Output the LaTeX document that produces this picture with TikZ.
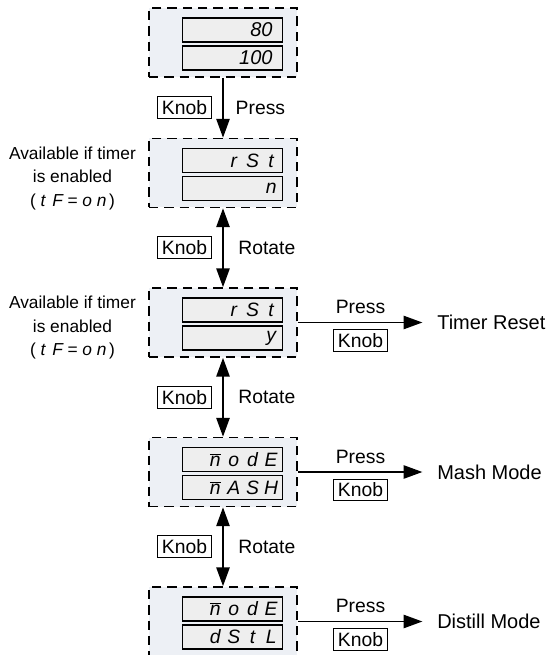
\documentclass[tikz,border=0pt]{standalone}
\usepackage{fontspec}
\setmainfont{Liberation Sans}
\usepackage{tikz}
\usetikzlibrary{arrows.meta,positioning}
\tikzset{>={Triangle[length=14pt,width=10pt]}}
\definecolor{panelfill}{RGB}{237,240,245}
\definecolor{dispfill}{RGB}{238,238,238}
% seven-segment look: one fixed cell per character
\def\segrun#1{\ifx\relax#1\else\makebox[\segcell][c]{#1}\expandafter\segrun\fi}
\newcommand{\seg}[2][14pt]{{\def\segcell{#1}\itshape\segrun#2\relax}}
\newcommand{\mseg}{\ensuremath{\overline{\mbox{n}}}}

\begin{document}
\begin{tikzpicture}[x=0.75pt,y=-0.75pt,
              panel/.style={draw, line width=1.3pt, dash pattern=on 7pt off 4.5pt, fill=panelfill,
                            minimum width=111pt, minimum height=51.75pt, inner sep=0pt},
              disp/.style={draw, line width=1pt, fill=dispfill, minimum height=18pt, text width=72pt,
                           inner xsep=1.5pt, inner ysep=0pt, align=right,
                           font=\fontsize{14.5}{14.5}\selectfont},
              digits/.style={disp, text width=60pt, inner xsep=7.5pt, font=\itshape\fontsize{15}{15}\selectfont},
              knob/.style={draw, line width=0.8pt, inner xsep=3.5pt, inner ysep=2.8pt,
                           font=\fontsize{14.5}{15}\selectfont},
              lbl/.style={inner sep=0pt, font=\fontsize{14.5}{17}\selectfont},
              note/.style={inner sep=0pt, align=center, font=\fontsize{13}{17.5}\selectfont},
              result/.style={inner sep=0pt, anchor=west, font=\fontsize{15}{17}\selectfont},
              flow/.style={line width=1pt, ->},
              both/.style={line width=1pt, <->},
             ]
\useasboundingbox (0,0) rectangle (550,655);
\clip (0,0) rectangle (550,655);

% panels
\node[panel] (p1) at (223,42.5) {};
\node[panel] (p2) at (223,173) {};
\node[panel] (p3) at (223,322.5) {};
\node[panel] (p4) at (223,472) {};
\node[panel] (p5) at (223,621.5) {};

% displays
\node[digits] (d1a) at (232.5,30) {80};
\node[digits] (d1b) at (232.5,58) {100};
\node[disp] (d2a) at (232.5,160.5) {\seg{rSt}};
\node[disp] (d2b) at (232.5,188.5) {\seg{n}};
\node[disp] (d3a) at (232.5,310) {\seg{rSt}};
\node[disp] (d3b) at (232.5,338) {\seg{y}};
\node[disp] (d4a) at (232.5,459.5) {\seg{\mseg odE}};
\node[disp] (d4b) at (232.5,487.5) {\seg{\mseg ASH}};
\node[disp] (d5a) at (232.5,609) {\seg{\mseg odE}};
\node[disp] (d5b) at (232.5,637) {\seg{dStL}};

% side notes
\node[note, left=9pt of p2, yshift=-4pt] (n2) {Available if timer\\is enabled\\(\seg[11pt]{tF=on})};
\node[note, left=9pt of p3, yshift=-4pt] (n3) {Available if timer\\is enabled\\(\seg[11pt]{tF=on})};

% results
\node[result] (t3) at (437,322.5) {Timer Reset};
\node[result] (t4) at (437,472) {Mash Mode};
\node[result] (t5) at (437,621.5) {Distill Mode};

% knob actions down the column
\draw[flow] (p1.south) -- (p2.north)
   node[midway, knob, left=8pt] (k1) {Knob}
   node[midway, lbl, right=9pt] (s1) {Press};
\draw[both] (p2.south) -- (p3.north)
   node[midway, knob, left=8pt] (k2) {Knob}
   node[midway, lbl, right=11pt] (r2) {Rotate};
\draw[both] (p3.south) -- (p4.north)
   node[midway, knob, left=8pt] (k3) {Knob}
   node[midway, lbl, right=11pt] (r3) {Rotate};
\draw[both] (p4.south) -- (p5.north)
   node[midway, knob, left=8pt] (k4) {Knob}
   node[midway, lbl, right=11pt] (r4) {Rotate};

% knob presses to the right
\draw[flow, shorten >=11pt] (p3.east) -- (p3.east -| t3.west)
   node[pos=0.45, lbl, above=6pt] (s3) {Press}
   node[pos=0.45, knob, below=5pt] (k5) {Knob};
\draw[flow, shorten >=11pt] (p4.east) -- (p4.east -| t4.west)
   node[pos=0.45, lbl, above=6pt] (s4) {Press}
   node[pos=0.45, knob, below=5pt] (k6) {Knob};
\draw[flow, shorten >=11pt] (p5.east) -- (p5.east -| t5.west)
   node[pos=0.45, lbl, above=6pt] (s5) {Press}
   node[pos=0.45, knob, below=5pt] (k7) {Knob};
\end{tikzpicture}
\end{document}
